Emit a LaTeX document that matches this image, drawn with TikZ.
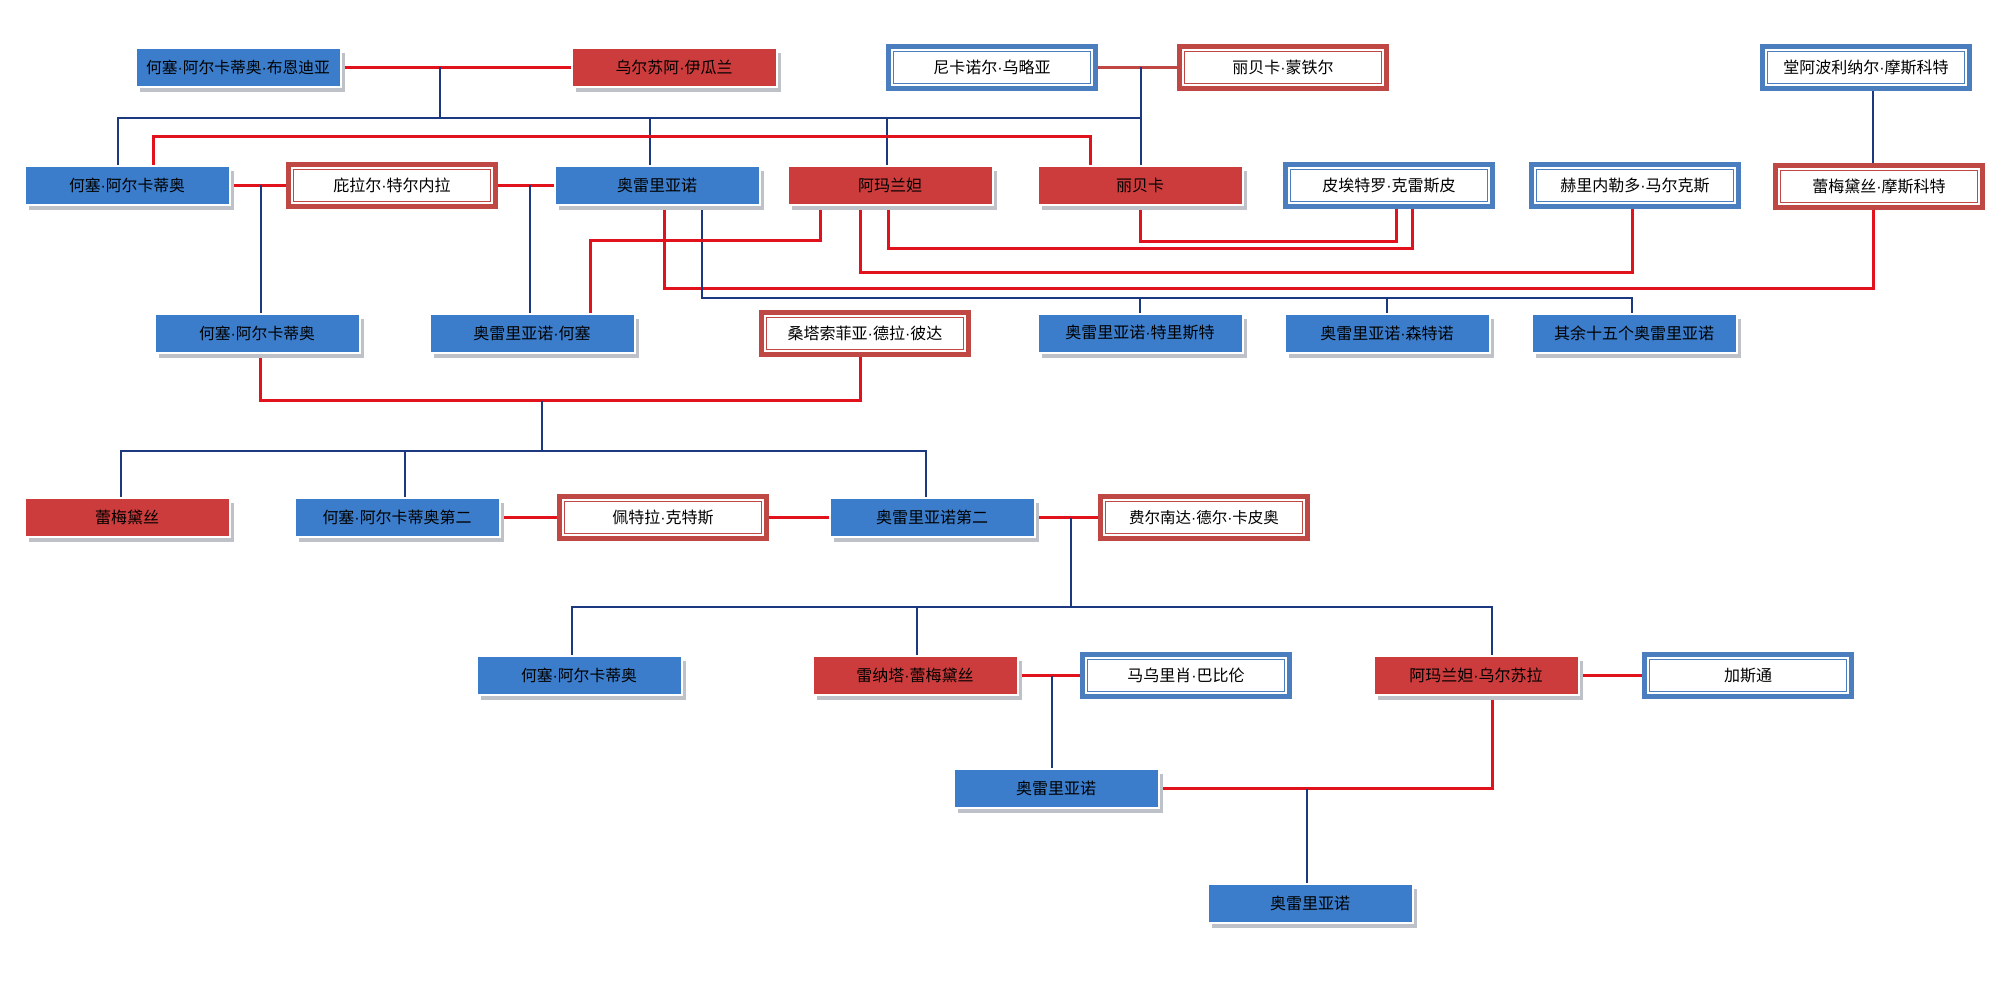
\documentclass[tikz,border=0pt]{standalone}
\usepackage{graphicx}
\usepackage{fontspec}
\newfontfamily\cjk{Noto Sans CJK SC}
\newfontfamily\latinf{Liberation Sans}
\newcommand{\dt}{{\latinf ·}}
\newcommand{\fitw}[2]{\resizebox{#1}{!}{#2}}
\usetikzlibrary{backgrounds,shadows,calc}
\definecolor{bfillc}{RGB}{59,125,203}
\definecolor{rfillc}{RGB}{205,60,60}
\definecolor{bdblc}{RGB}{74,126,190}
\definecolor{rdblc}{RGB}{192,72,68}
\definecolor{linered}{RGB}{226,18,28}
\definecolor{lineblue}{RGB}{28,56,128}
\definecolor{shadowc}{RGB}{190,193,200}
\tikzset{
  base/.style={rectangle, inner sep=0pt, outer sep=0pt, align=center,
    font=\cjk\fontsize{16}{18}\selectfont, text=black},
  fillbox/.style={base, draw=white, line width=2pt, minimum width=205pt, minimum height=39pt,
    drop shadow={shadow xshift=4pt, shadow yshift=-5pt, fill=shadowc, opacity=1}},
  bluebox/.style={fillbox, fill=bfillc},
  redbox/.style={fillbox, fill=rfillc},
  dblbox/.style={base, fill=white, draw=#1, line width=5pt, minimum width=207pt, minimum height=42pt,
    path picture={\draw[#1, line width=1pt]
      ([shift={(5pt,5pt)}]path picture bounding box.south west) rectangle
      ([shift={(-5pt,-5pt)}]path picture bounding box.north east);}},
  bluedbl/.style={dblbox=bdblc},
  reddbl/.style={dblbox=rdblc},
  redl/.style={draw=linered, line width=3pt},
  rthin/.style={draw=rdblc, line width=2.5pt},
  bluel/.style={draw=lineblue, line width=2.5pt},
}
\begin{document}
\begin{tikzpicture}[x=1pt, y=-1pt]
\useasboundingbox (0,0) rectangle (2014,987);
% row 1
\node[bluebox] (A) at (238,67.5) {\fitw{184pt}{何塞\dt{}阿尔卡蒂奥\dt{}布恩迪亚}};
\node[redbox] (B) at (674,67.5) {\fitw{117pt}{乌尔苏阿\dt{}伊瓜兰}};
\node[bluedbl] (C) at (992,67.5) {尼卡诺尔\dt{}乌略亚};
\node[reddbl] (D) at (1283,67.5) {丽贝卡\dt{}蒙铁尔};
\node[bluedbl] (E) at (1866,67.5) {堂阿波利纳尔\dt{}摩斯科特};
% row 2
\node[bluebox] (F) at (127,185.5) {\fitw{116pt}{何塞\dt{}阿尔卡蒂奥}};
\node[reddbl] (G) at (392,185.5) {庇拉尔\dt{}特尔内拉};
\node[bluebox] (H) at (657,185.5) {奥雷里亚诺};
\node[redbox] (I) at (890,185.5) {阿玛兰妲};
\node[redbox] (J) at (1140,185.5) {丽贝卡};
\node[bluedbl] (K) at (1389,185.5) {皮埃特罗\dt{}克雷斯皮};
\node[bluedbl] (L) at (1635,185.5) {赫里内勒多\dt{}马尔克斯};
\node[reddbl] (M) at (1879,186.5) {蕾梅黛丝\dt{}摩斯科特};
% row 3
\node[bluebox] (N) at (257,333) {\fitw{116pt}{何塞\dt{}阿尔卡蒂奥}};
\node[bluebox] (O) at (532,333) {奥雷里亚诺\dt{}何塞};
\node[reddbl] (P) at (865,333) {桑塔索菲亚\dt{}德拉\dt{}彼达};
\node[bluebox] (Q) at (1140,333) {奥雷里亚诺\dt{}特里斯特};
\node[bluebox] (R) at (1387,333) {奥雷里亚诺\dt{}森特诺};
\node[bluebox] (S) at (1634,333) {其余十五个奥雷里亚诺};
% row 4
\node[redbox] (T) at (127,517.5) {蕾梅黛丝};
\node[bluebox] (U) at (397,517.5) {\fitw{149pt}{何塞\dt{}阿尔卡蒂奥第二}};
\node[reddbl] (V) at (663,517.5) {佩特拉\dt{}克特斯};
\node[bluebox] (W) at (932,517.5) {奥雷里亚诺第二};
\node[reddbl] (X) at (1204,517.5) {\fitw{150pt}{费尔南达\dt{}德尔\dt{}卡皮奥}};
% row 5
\node[bluebox] (Y) at (579,675.5) {\fitw{116pt}{何塞\dt{}阿尔卡蒂奥}};
\node[redbox] (Z) at (915,675.5) {雷纳塔\dt{}蕾梅黛丝};
\node[bluedbl] (AA) at (1186,675.5) {马乌里肖\dt{}巴比伦};
\node[redbox] (AB) at (1476,675.5) {阿玛兰妲\dt{}乌尔苏拉};
\node[bluedbl] (AC) at (1748,675.5) {加斯通};
% rows 6, 7
\node[bluebox] (AD) at (1056,788.5) {奥雷里亚诺};
\node[bluebox] (AE) at (1310,903.5) {奥雷里亚诺};
% junction points
\coordinate (ab) at (440,67.5);
\coordinate (abbus) at (440,118);
\coordinate (cd) at (1141,67.5);
\coordinate (fg) at (261,185.5);
\coordinate (gh) at (530,185.5);
\coordinate (hb) at (702,298);
\coordinate (np) at (542,401);
\coordinate (npb) at (542,451);
\coordinate (wx) at (1071,517.5);
\coordinate (wxb) at (1071,607);
\coordinate (za) at (1052,675.5);
\coordinate (abad) at (1307,788.5);
\begin{pgfonlayer}{background}
\fill[white] (0,0) rectangle (2014,987);
% generation 1
\draw[redl] (A.east) -- (B.west);
\draw[bluel] (ab) -- (abbus);
\draw[bluel] (abbus) -| ([xshift=-9pt]F.north);
\draw[bluel] (abbus) -| ([xshift=-7pt]H.north);
\draw[bluel] (abbus) -| ([xshift=-3pt]I.north);
\draw[bluel] (abbus) -- (abbus -| cd);
\draw[rthin] (C.east) -- (D.west);
\draw[bluel] (cd) -- (cd |- J.north);
\draw[redl] ([xshift=26pt]F.north) -- ++(0,-29) -| ([xshift=-50pt]J.north);
\draw[bluel] ([xshift=7pt]E.south) -- ([xshift=-6pt]M.north);
% generation 2
\draw[redl] (F.east) -- (G.west);
\draw[redl] (G.east) -- (H.west);
\draw[bluel] (fg) -| ([xshift=4pt]N.north);
\draw[bluel] (gh) -| ([xshift=-2pt]O.north);
\draw[redl] ([xshift=7pt]H.south) -- ++(0,83) -| ([xshift=-6pt]M.south);
\draw[bluel] ([xshift=45pt]H.south) -- (hb) -| ([xshift=-2pt]S.north);
\draw[bluel] (hb) -| (Q.north);
\draw[bluel] (hb) -| (R.north);
\draw[redl] ([xshift=-70pt]I.south) -- ++(0,36) -| ([xshift=58pt]O.north);
\draw[redl] ([xshift=-30pt]I.south) -- ++(0,68) -| ([xshift=-3pt]L.south);
\draw[redl] ([xshift=-2pt]I.south) -- ++(0,44) -| ([xshift=23pt]K.south);
\draw[redl] (J.south) -- ++(0,37) -| ([xshift=7pt]K.south);
% generation 3
\draw[redl] ([xshift=3pt]N.south) -- ++(0,48) -| ([xshift=-5pt]P.south);
\draw[bluel] (np) -- (npb);
\draw[bluel] (npb) -| ([xshift=-6pt]T.north);
\draw[bluel] (npb) -| ([xshift=8pt]U.north);
\draw[bluel] (npb) -| ([xshift=-6pt]W.north);
% generation 4
\draw[redl] (U.east) -- (V.west);
\draw[redl] (V.east) -- (W.west);
\draw[redl] (W.east) -- (X.west);
\draw[bluel] (wx) -- (wxb);
\draw[bluel] (wxb) -| ([xshift=-7pt]Y.north);
\draw[bluel] (wxb) -| ([xshift=2pt]Z.north);
\draw[bluel] (wxb) -| ([xshift=16pt]AB.north);
% generation 5, 6
\draw[redl] (Z.east) -- (AA.west);
\draw[bluel] (za) -| ([xshift=-4pt]AD.north);
\draw[redl] (AB.east) -- (AC.west);
\draw[redl] ([xshift=16pt]AB.south) |- (AD.east);
\draw[bluel] (abad) -| ([xshift=-3pt]AE.north);
\end{pgfonlayer}
\end{tikzpicture}
\end{document}
